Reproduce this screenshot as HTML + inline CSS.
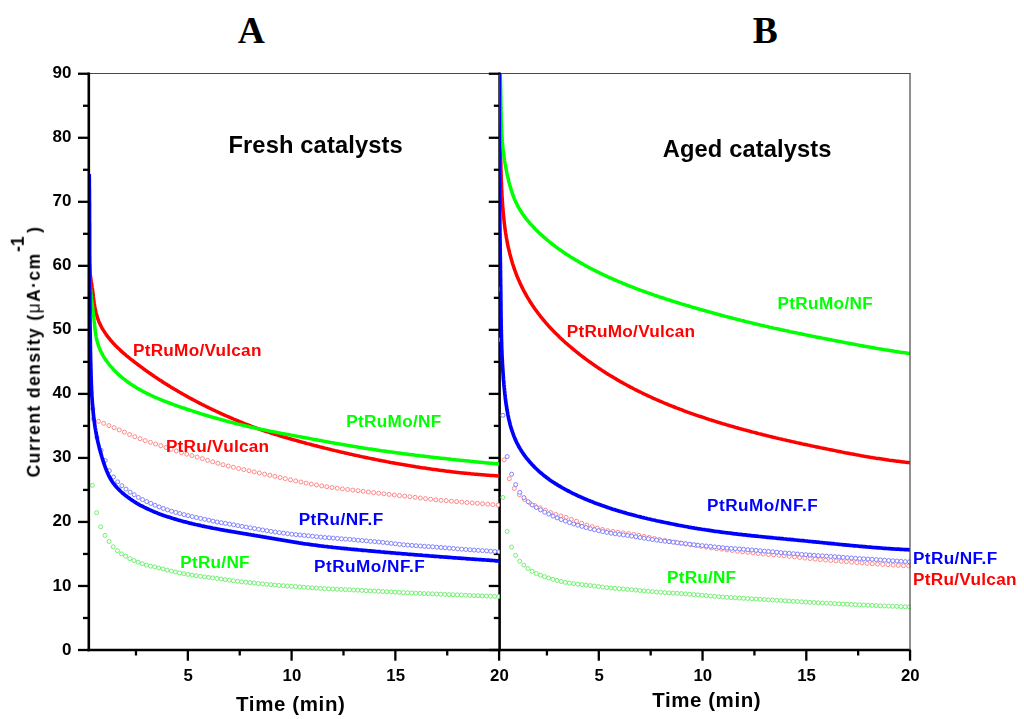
<!DOCTYPE html>
<html><head><meta charset="utf-8"><title>Chart</title>
<style>html,body{margin:0;padding:0;background:#fff;}body{width:1024px;height:719px;position:relative;overflow:hidden;font-family:"Liberation Sans",sans-serif;}</style>
</head><body>
<svg width="1024" height="719" viewBox="0 0 1024 719" style="position:absolute;left:0;top:0">
<rect width="1024" height="719" fill="#fff"/>
<defs><clipPath id="cA"><rect x="88.8" y="73.2" width="410.8" height="577"/></clipPath><clipPath id="cB"><rect x="499.4" y="73.2" width="411.6" height="577"/></clipPath></defs>
<path d="M88.8,73.55 H910.5" fill="none" stroke="#4a4a4a" stroke-width="1.05"/>
<path d="M499.6,72.6 V651.3" stroke="#000" stroke-width="2.6" fill="none"/>
<g stroke="#000" stroke-width="2.3" fill="none"><path d="M488.8,650.00 H499.6"/><path d="M493.8,617.99 H499.6"/><path d="M488.8,585.97 H499.6"/><path d="M493.8,553.96 H499.6"/><path d="M488.8,521.94 H499.6"/><path d="M493.8,489.93 H499.6"/><path d="M488.8,457.92 H499.6"/><path d="M493.8,425.90 H499.6"/><path d="M488.8,393.89 H499.6"/><path d="M493.8,361.88 H499.6"/><path d="M488.8,329.86 H499.6"/><path d="M493.8,297.85 H499.6"/><path d="M488.8,265.83 H499.6"/><path d="M493.8,233.82 H499.6"/><path d="M488.8,201.81 H499.6"/><path d="M493.8,169.79 H499.6"/><path d="M488.8,137.78 H499.6"/><path d="M493.8,105.76 H499.6"/><path d="M488.8,73.75 H499.6"/></g>
<g clip-path="url(#cA)">
<g fill="#fff" stroke="#62ee62" stroke-width="0.9"><circle cx="92.3" cy="485.3" r="2.0"/><circle cx="96.6" cy="512.7" r="2.0"/><circle cx="100.7" cy="526.8" r="2.0"/><circle cx="105.0" cy="535.4" r="2.0"/><circle cx="109.1" cy="541.5" r="2.0"/><circle cx="113.2" cy="546.8" r="2.0"/><circle cx="117.4" cy="550.7" r="2.0"/><circle cx="121.5" cy="553.9" r="2.0"/><circle cx="125.7" cy="556.2" r="2.0"/><circle cx="129.8" cy="558.7" r="2.0"/><circle cx="134.0" cy="560.5" r="2.0"/><circle cx="138.1" cy="562.2" r="2.0"/><circle cx="142.3" cy="563.7" r="2.0"/><circle cx="146.4" cy="565.1" r="2.0"/><circle cx="150.5" cy="566.1" r="2.0"/><circle cx="154.7" cy="567.0" r="2.0"/><circle cx="158.8" cy="568.0" r="2.0"/><circle cx="163.0" cy="569.0" r="2.0"/><circle cx="167.1" cy="570.1" r="2.0"/><circle cx="171.3" cy="571.1" r="2.0"/><circle cx="175.4" cy="572.0" r="2.0"/><circle cx="179.6" cy="572.9" r="2.0"/><circle cx="183.7" cy="573.7" r="2.0"/><circle cx="187.9" cy="574.4" r="2.0"/><circle cx="192.0" cy="575.1" r="2.0"/><circle cx="196.1" cy="575.7" r="2.0"/><circle cx="200.3" cy="576.3" r="2.0"/><circle cx="204.4" cy="576.9" r="2.0"/><circle cx="208.6" cy="577.4" r="2.0"/><circle cx="212.7" cy="577.9" r="2.0"/><circle cx="216.9" cy="578.4" r="2.0"/><circle cx="221.0" cy="579.0" r="2.0"/><circle cx="225.2" cy="579.6" r="2.0"/><circle cx="229.3" cy="580.1" r="2.0"/><circle cx="233.4" cy="580.7" r="2.0"/><circle cx="237.6" cy="581.3" r="2.0"/><circle cx="241.7" cy="581.8" r="2.0"/><circle cx="245.9" cy="582.2" r="2.0"/><circle cx="250.0" cy="582.6" r="2.0"/><circle cx="254.2" cy="583.0" r="2.0"/><circle cx="258.3" cy="583.5" r="2.0"/><circle cx="262.5" cy="583.9" r="2.0"/><circle cx="266.6" cy="584.3" r="2.0"/><circle cx="270.8" cy="584.7" r="2.0"/><circle cx="274.9" cy="585.0" r="2.0"/><circle cx="279.0" cy="585.4" r="2.0"/><circle cx="283.2" cy="585.7" r="2.0"/><circle cx="287.3" cy="586.0" r="2.0"/><circle cx="291.5" cy="586.3" r="2.0"/><circle cx="295.6" cy="586.6" r="2.0"/><circle cx="299.8" cy="586.9" r="2.0"/><circle cx="303.9" cy="587.2" r="2.0"/><circle cx="308.1" cy="587.5" r="2.0"/><circle cx="312.2" cy="587.8" r="2.0"/><circle cx="316.3" cy="588.1" r="2.0"/><circle cx="320.5" cy="588.4" r="2.0"/><circle cx="324.6" cy="588.6" r="2.0"/><circle cx="328.8" cy="588.8" r="2.0"/><circle cx="332.9" cy="589.0" r="2.0"/><circle cx="337.1" cy="589.2" r="2.0"/><circle cx="341.2" cy="589.4" r="2.0"/><circle cx="345.4" cy="589.6" r="2.0"/><circle cx="349.5" cy="589.8" r="2.0"/><circle cx="353.7" cy="590.0" r="2.0"/><circle cx="357.8" cy="590.2" r="2.0"/><circle cx="361.9" cy="590.4" r="2.0"/><circle cx="366.1" cy="590.7" r="2.0"/><circle cx="370.2" cy="590.9" r="2.0"/><circle cx="374.4" cy="591.1" r="2.0"/><circle cx="378.5" cy="591.3" r="2.0"/><circle cx="382.7" cy="591.5" r="2.0"/><circle cx="386.8" cy="591.7" r="2.0"/><circle cx="391.0" cy="591.9" r="2.0"/><circle cx="395.1" cy="592.1" r="2.0"/><circle cx="399.2" cy="592.4" r="2.0"/><circle cx="403.4" cy="592.6" r="2.0"/><circle cx="407.5" cy="592.8" r="2.0"/><circle cx="411.7" cy="593.0" r="2.0"/><circle cx="415.8" cy="593.2" r="2.0"/><circle cx="420.0" cy="593.4" r="2.0"/><circle cx="424.1" cy="593.6" r="2.0"/><circle cx="428.3" cy="593.7" r="2.0"/><circle cx="432.4" cy="593.9" r="2.0"/><circle cx="436.6" cy="594.0" r="2.0"/><circle cx="440.7" cy="594.2" r="2.0"/><circle cx="444.8" cy="594.4" r="2.0"/><circle cx="449.0" cy="594.6" r="2.0"/><circle cx="453.1" cy="594.7" r="2.0"/><circle cx="457.3" cy="594.9" r="2.0"/><circle cx="461.4" cy="595.0" r="2.0"/><circle cx="465.6" cy="595.2" r="2.0"/><circle cx="469.7" cy="595.4" r="2.0"/><circle cx="473.9" cy="595.6" r="2.0"/><circle cx="478.0" cy="595.7" r="2.0"/><circle cx="482.1" cy="595.9" r="2.0"/><circle cx="486.3" cy="596.0" r="2.0"/><circle cx="490.4" cy="596.2" r="2.0"/><circle cx="494.6" cy="596.4" r="2.0"/><circle cx="498.7" cy="596.5" r="2.0"/></g>
<g fill="#fff" stroke="#ff7c7c" stroke-width="0.9"><circle cx="93.3" cy="419.1" r="2.0"/><circle cx="98.5" cy="421.3" r="2.0"/><circle cx="103.7" cy="423.4" r="2.0"/><circle cx="108.9" cy="425.6" r="2.0"/><circle cx="114.1" cy="427.7" r="2.0"/><circle cx="119.2" cy="429.9" r="2.0"/><circle cx="124.4" cy="432.1" r="2.0"/><circle cx="129.6" cy="434.5" r="2.0"/><circle cx="134.8" cy="436.7" r="2.0"/><circle cx="140.0" cy="438.7" r="2.0"/><circle cx="145.2" cy="440.6" r="2.0"/><circle cx="150.4" cy="442.3" r="2.0"/><circle cx="155.6" cy="444.0" r="2.0"/><circle cx="160.8" cy="445.7" r="2.0"/><circle cx="166.0" cy="447.5" r="2.0"/><circle cx="171.1" cy="449.3" r="2.0"/><circle cx="176.3" cy="451.0" r="2.0"/><circle cx="181.5" cy="452.7" r="2.0"/><circle cx="186.7" cy="454.2" r="2.0"/><circle cx="191.9" cy="455.6" r="2.0"/><circle cx="197.1" cy="457.1" r="2.0"/><circle cx="202.3" cy="458.6" r="2.0"/><circle cx="207.5" cy="460.3" r="2.0"/><circle cx="212.7" cy="461.8" r="2.0"/><circle cx="217.9" cy="463.3" r="2.0"/><circle cx="223.0" cy="464.7" r="2.0"/><circle cx="228.2" cy="466.0" r="2.0"/><circle cx="233.4" cy="467.2" r="2.0"/><circle cx="238.6" cy="468.5" r="2.0"/><circle cx="243.8" cy="469.6" r="2.0"/><circle cx="249.0" cy="470.7" r="2.0"/><circle cx="254.2" cy="471.9" r="2.0"/><circle cx="259.4" cy="473.0" r="2.0"/><circle cx="264.6" cy="474.1" r="2.0"/><circle cx="269.8" cy="475.2" r="2.0"/><circle cx="274.9" cy="476.3" r="2.0"/><circle cx="280.1" cy="477.5" r="2.0"/><circle cx="285.3" cy="478.6" r="2.0"/><circle cx="290.5" cy="479.8" r="2.0"/><circle cx="295.7" cy="480.9" r="2.0"/><circle cx="300.9" cy="482.0" r="2.0"/><circle cx="306.1" cy="483.1" r="2.0"/><circle cx="311.3" cy="484.1" r="2.0"/><circle cx="316.5" cy="485.0" r="2.0"/><circle cx="321.7" cy="485.9" r="2.0"/><circle cx="326.8" cy="486.7" r="2.0"/><circle cx="332.0" cy="487.5" r="2.0"/><circle cx="337.2" cy="488.2" r="2.0"/><circle cx="342.4" cy="488.9" r="2.0"/><circle cx="347.6" cy="489.5" r="2.0"/><circle cx="352.8" cy="490.1" r="2.0"/><circle cx="358.0" cy="490.7" r="2.0"/><circle cx="363.2" cy="491.3" r="2.0"/><circle cx="368.4" cy="492.0" r="2.0"/><circle cx="373.6" cy="492.6" r="2.0"/><circle cx="378.7" cy="493.2" r="2.0"/><circle cx="383.9" cy="493.8" r="2.0"/><circle cx="389.1" cy="494.4" r="2.0"/><circle cx="394.3" cy="495.0" r="2.0"/><circle cx="399.5" cy="495.6" r="2.0"/><circle cx="404.7" cy="496.1" r="2.0"/><circle cx="409.9" cy="496.7" r="2.0"/><circle cx="415.1" cy="497.3" r="2.0"/><circle cx="420.3" cy="498.0" r="2.0"/><circle cx="425.5" cy="498.6" r="2.0"/><circle cx="430.6" cy="499.2" r="2.0"/><circle cx="435.8" cy="499.8" r="2.0"/><circle cx="441.0" cy="500.3" r="2.0"/><circle cx="446.2" cy="500.7" r="2.0"/><circle cx="451.4" cy="501.2" r="2.0"/><circle cx="456.6" cy="501.6" r="2.0"/><circle cx="461.8" cy="502.1" r="2.0"/><circle cx="467.0" cy="502.5" r="2.0"/><circle cx="472.2" cy="502.9" r="2.0"/><circle cx="477.4" cy="503.3" r="2.0"/><circle cx="482.5" cy="503.7" r="2.0"/><circle cx="487.7" cy="504.2" r="2.0"/><circle cx="492.9" cy="504.6" r="2.0"/><circle cx="498.1" cy="505.0" r="2.0"/></g>
<g fill="#fff" stroke="#7474ff" stroke-width="0.9"><circle cx="92.8" cy="408.6" r="2.0"/><circle cx="96.9" cy="437.5" r="2.0"/><circle cx="101.1" cy="450.3" r="2.0"/><circle cx="105.2" cy="460.5" r="2.0"/><circle cx="109.4" cy="470.7" r="2.0"/><circle cx="113.5" cy="477.0" r="2.0"/><circle cx="117.7" cy="481.8" r="2.0"/><circle cx="121.8" cy="485.7" r="2.0"/><circle cx="126.0" cy="489.1" r="2.0"/><circle cx="130.1" cy="492.2" r="2.0"/><circle cx="134.2" cy="494.7" r="2.0"/><circle cx="138.4" cy="497.4" r="2.0"/><circle cx="142.5" cy="499.6" r="2.0"/><circle cx="146.7" cy="501.6" r="2.0"/><circle cx="150.8" cy="503.4" r="2.0"/><circle cx="155.0" cy="505.2" r="2.0"/><circle cx="159.1" cy="506.9" r="2.0"/><circle cx="163.3" cy="508.5" r="2.0"/><circle cx="167.4" cy="509.9" r="2.0"/><circle cx="171.6" cy="511.2" r="2.0"/><circle cx="175.7" cy="512.4" r="2.0"/><circle cx="179.8" cy="513.5" r="2.0"/><circle cx="184.0" cy="514.6" r="2.0"/><circle cx="188.1" cy="515.6" r="2.0"/><circle cx="192.3" cy="516.6" r="2.0"/><circle cx="196.4" cy="517.5" r="2.0"/><circle cx="200.6" cy="518.4" r="2.0"/><circle cx="204.7" cy="519.3" r="2.0"/><circle cx="208.9" cy="520.2" r="2.0"/><circle cx="213.0" cy="521.1" r="2.0"/><circle cx="217.1" cy="522.0" r="2.0"/><circle cx="221.3" cy="522.7" r="2.0"/><circle cx="225.4" cy="523.4" r="2.0"/><circle cx="229.6" cy="524.1" r="2.0"/><circle cx="233.7" cy="524.8" r="2.0"/><circle cx="237.9" cy="525.6" r="2.0"/><circle cx="242.0" cy="526.4" r="2.0"/><circle cx="246.2" cy="527.1" r="2.0"/><circle cx="250.3" cy="527.8" r="2.0"/><circle cx="254.5" cy="528.5" r="2.0"/><circle cx="258.6" cy="529.3" r="2.0"/><circle cx="262.7" cy="530.0" r="2.0"/><circle cx="266.9" cy="530.7" r="2.0"/><circle cx="271.0" cy="531.4" r="2.0"/><circle cx="275.2" cy="532.0" r="2.0"/><circle cx="279.3" cy="532.6" r="2.0"/><circle cx="283.5" cy="533.1" r="2.0"/><circle cx="287.6" cy="533.7" r="2.0"/><circle cx="291.8" cy="534.2" r="2.0"/><circle cx="295.9" cy="534.6" r="2.0"/><circle cx="300.0" cy="535.0" r="2.0"/><circle cx="304.2" cy="535.4" r="2.0"/><circle cx="308.3" cy="535.8" r="2.0"/><circle cx="312.5" cy="536.2" r="2.0"/><circle cx="316.6" cy="536.7" r="2.0"/><circle cx="320.8" cy="537.1" r="2.0"/><circle cx="324.9" cy="537.5" r="2.0"/><circle cx="329.1" cy="537.8" r="2.0"/><circle cx="333.2" cy="538.1" r="2.0"/><circle cx="337.4" cy="538.4" r="2.0"/><circle cx="341.5" cy="538.8" r="2.0"/><circle cx="345.6" cy="539.1" r="2.0"/><circle cx="349.8" cy="539.4" r="2.0"/><circle cx="353.9" cy="539.8" r="2.0"/><circle cx="358.1" cy="540.2" r="2.0"/><circle cx="362.2" cy="540.5" r="2.0"/><circle cx="366.4" cy="540.9" r="2.0"/><circle cx="370.5" cy="541.3" r="2.0"/><circle cx="374.7" cy="541.6" r="2.0"/><circle cx="378.8" cy="542.0" r="2.0"/><circle cx="382.9" cy="542.4" r="2.0"/><circle cx="387.1" cy="542.9" r="2.0"/><circle cx="391.2" cy="543.4" r="2.0"/><circle cx="395.4" cy="543.8" r="2.0"/><circle cx="399.5" cy="544.3" r="2.0"/><circle cx="403.7" cy="544.7" r="2.0"/><circle cx="407.8" cy="545.1" r="2.0"/><circle cx="412.0" cy="545.4" r="2.0"/><circle cx="416.1" cy="545.7" r="2.0"/><circle cx="420.3" cy="546.0" r="2.0"/><circle cx="424.4" cy="546.3" r="2.0"/><circle cx="428.5" cy="546.6" r="2.0"/><circle cx="432.7" cy="546.8" r="2.0"/><circle cx="436.8" cy="547.2" r="2.0"/><circle cx="441.0" cy="547.5" r="2.0"/><circle cx="445.1" cy="547.8" r="2.0"/><circle cx="449.3" cy="548.2" r="2.0"/><circle cx="453.4" cy="548.5" r="2.0"/><circle cx="457.6" cy="548.9" r="2.0"/><circle cx="461.7" cy="549.2" r="2.0"/><circle cx="465.8" cy="549.5" r="2.0"/><circle cx="470.0" cy="549.8" r="2.0"/><circle cx="474.1" cy="550.1" r="2.0"/><circle cx="478.3" cy="550.4" r="2.0"/><circle cx="482.4" cy="550.6" r="2.0"/><circle cx="486.6" cy="550.9" r="2.0"/><circle cx="490.7" cy="551.2" r="2.0"/><circle cx="494.9" cy="551.5" r="2.0"/><circle cx="499.0" cy="551.8" r="2.0"/></g>
<path d="M89.4,256.0 L89.4,257.5 L89.4,259.0 L89.4,260.5 L89.4,262.0 L89.4,263.5 L89.5,265.0 L89.6,266.4 L89.7,267.9 L89.8,269.4 L89.9,270.9 L90.1,272.4 L90.2,273.9 L90.4,275.4 L90.6,276.9 L90.8,278.4 L91.0,279.9 L91.2,281.3 L91.5,282.8 L91.7,284.3 L91.9,285.8 L92.1,287.3 L92.4,288.8 L92.6,290.3 L92.8,291.8 L93.0,293.3 L93.2,294.8 L93.3,296.4 L93.5,297.9 L93.7,299.4 L93.9,300.9 L94.1,302.4 L94.3,303.8 L94.6,305.3 L94.8,306.8 L95.1,308.3 L95.4,309.8 L95.7,311.2 L96.0,312.7 L96.4,314.1 L96.8,315.5 L97.2,316.9 L97.7,318.4 L98.2,319.7 L98.7,321.1 L99.3,322.5 L99.9,323.8 L100.5,325.2 L101.2,326.5 L101.9,327.8 L102.7,329.1 L103.5,330.4 L104.3,331.6 L105.1,332.9 L105.9,334.1 L106.8,335.4 L107.7,336.6 L108.6,337.8 L109.6,338.9 L110.5,340.1 L111.5,341.2 L112.5,342.4 L113.5,343.5 L114.6,344.6 L115.6,345.7 L116.7,346.7 L117.7,347.8 L118.8,348.8 L119.9,349.8 L121.0,350.9 L122.1,351.9 L123.2,352.8 L124.4,353.8 L125.5,354.8 L126.6,355.8 L127.8,356.7 L129.0,357.7 L130.1,358.6 L131.3,359.5 L132.5,360.5 L133.7,361.4 L134.9,362.3 L136.0,363.2 L137.2,364.1 L138.4,365.0 L139.7,365.9 L140.9,366.8 L142.1,367.7 L143.3,368.6 L144.5,369.5 L145.7,370.4 L146.9,371.2 L148.2,372.1 L149.4,373.0 L150.6,373.8 L151.9,374.7 L153.1,375.5 L154.3,376.4 L155.6,377.2 L156.8,378.1 L158.1,378.9 L159.3,379.7 L160.6,380.5 L161.8,381.3 L163.1,382.2 L164.4,383.0 L165.6,383.8 L166.9,384.6 L168.2,385.4 L169.5,386.1 L170.7,386.9 L172.0,387.7 L173.3,388.5 L174.6,389.3 L175.9,390.0 L177.2,390.8 L178.4,391.5 L179.7,392.3 L181.0,393.0 L182.3,393.8 L183.6,394.5 L185.0,395.3 L186.3,396.0 L187.6,396.7 L188.9,397.5 L190.2,398.2 L191.5,398.9 L192.8,399.6 L194.2,400.3 L195.5,401.0 L196.8,401.7 L198.1,402.4 L199.5,403.1 L200.8,403.8 L202.1,404.5 L203.5,405.1 L204.8,405.8 L206.2,406.5 L207.5,407.1 L208.9,407.8 L210.2,408.5 L211.6,409.1 L212.9,409.8 L214.3,410.4 L215.6,411.0 L217.0,411.7 L218.3,412.3 L219.7,412.9 L221.1,413.6 L222.4,414.2 L223.8,414.8 L225.2,415.4 L226.5,416.0 L227.9,416.6 L229.3,417.2 L230.7,417.8 L232.1,418.4 L233.4,419.0 L234.8,419.6 L236.2,420.2 L237.6,420.7 L239.0,421.3 L240.4,421.9 L241.8,422.4 L243.2,423.0 L244.5,423.6 L245.9,424.1 L247.3,424.6 L248.7,425.2 L250.1,425.7 L251.5,426.3 L253.0,426.8 L254.4,427.3 L255.8,427.8 L257.2,428.3 L258.6,428.8 L260.0,429.3 L261.4,429.8 L262.8,430.3 L264.2,430.8 L265.7,431.3 L267.1,431.7 L268.5,432.2 L269.9,432.7 L271.3,433.1 L272.8,433.6 L274.2,434.0 L275.6,434.5 L277.0,434.9 L278.5,435.4 L279.9,435.8 L281.3,436.3 L282.8,436.7 L284.2,437.1 L285.6,437.5 L287.1,437.9 L288.5,438.4 L289.9,438.8 L291.4,439.2 L292.8,439.6 L294.3,440.0 L295.7,440.4 L297.2,440.8 L298.6,441.2 L300.0,441.6 L301.5,442.0 L302.9,442.4 L304.4,442.8 L305.8,443.2 L307.3,443.6 L308.7,443.9 L310.2,444.3 L311.6,444.7 L313.1,445.1 L314.5,445.5 L316.0,445.8 L317.4,446.2 L318.9,446.6 L320.4,447.0 L321.8,447.3 L323.3,447.7 L324.7,448.1 L326.2,448.4 L327.7,448.8 L329.1,449.1 L330.6,449.5 L332.0,449.9 L333.5,450.2 L335.0,450.6 L336.4,450.9 L337.9,451.3 L339.4,451.6 L340.8,452.0 L342.3,452.3 L343.7,452.6 L345.2,453.0 L346.7,453.3 L348.1,453.6 L349.6,454.0 L351.1,454.3 L352.5,454.6 L354.0,455.0 L355.5,455.3 L357.0,455.6 L358.4,455.9 L359.9,456.3 L361.4,456.6 L362.8,456.9 L364.3,457.2 L365.8,457.5 L367.2,457.8 L368.7,458.1 L370.2,458.4 L371.7,458.7 L373.1,459.0 L374.6,459.3 L376.1,459.6 L377.5,459.9 L379.0,460.2 L380.5,460.5 L382.0,460.8 L383.4,461.1 L384.9,461.3 L386.4,461.6 L387.8,461.9 L389.3,462.2 L390.8,462.5 L392.3,462.7 L393.7,463.0 L395.2,463.3 L396.7,463.5 L398.2,463.8 L399.6,464.1 L401.1,464.3 L402.6,464.6 L404.1,464.8 L405.5,465.1 L407.0,465.3 L408.5,465.6 L410.0,465.8 L411.4,466.1 L412.9,466.3 L414.4,466.5 L415.9,466.8 L417.4,467.0 L418.8,467.2 L420.3,467.5 L421.8,467.7 L423.3,467.9 L424.8,468.1 L426.2,468.3 L427.7,468.6 L429.2,468.8 L430.7,469.0 L432.2,469.2 L433.6,469.4 L435.1,469.6 L436.6,469.8 L438.1,470.0 L439.6,470.2 L441.1,470.4 L442.6,470.6 L444.0,470.8 L445.5,471.0 L447.0,471.2 L448.5,471.3 L450.0,471.5 L451.5,471.7 L453.0,471.9 L454.4,472.0 L455.9,472.2 L457.4,472.4 L458.9,472.6 L460.4,472.7 L461.9,472.9 L463.4,473.0 L464.9,473.2 L466.4,473.3 L467.9,473.5 L469.4,473.6 L470.8,473.8 L472.3,473.9 L473.8,474.1 L475.3,474.2 L476.8,474.3 L478.3,474.5 L479.8,474.6 L481.3,474.7 L482.8,474.8 L484.3,475.0 L485.8,475.1 L487.3,475.2 L488.8,475.3 L490.3,475.4 L491.8,475.5 L493.3,475.6 L494.8,475.7 L496.3,475.8 L497.8,475.9 L499.0,476.0" fill="none" stroke="#ff0000" stroke-width="3.5" stroke-linejoin="round"/>
<path d="M89.3,262.0 L89.3,263.5 L89.3,265.0 L89.4,266.5 L89.4,268.0 L89.4,269.5 L89.5,271.0 L89.5,272.5 L89.6,274.0 L89.6,275.5 L89.7,277.0 L89.8,278.5 L89.9,280.0 L90.0,281.5 L90.1,283.0 L90.2,284.4 L90.3,285.9 L90.4,287.4 L90.5,288.9 L90.7,290.4 L90.8,291.9 L90.9,293.4 L91.1,294.9 L91.3,296.4 L91.4,297.9 L91.6,299.4 L91.8,300.9 L92.0,302.4 L92.2,303.9 L92.4,305.4 L92.6,306.9 L92.8,308.4 L92.9,309.9 L93.1,311.4 L93.3,312.9 L93.5,314.4 L93.7,315.9 L93.8,317.4 L94.0,318.9 L94.1,320.4 L94.3,321.9 L94.4,323.3 L94.6,324.8 L94.7,326.3 L94.9,327.8 L95.0,329.3 L95.2,330.8 L95.4,332.2 L95.6,333.7 L95.9,335.2 L96.1,336.6 L96.4,338.1 L96.7,339.5 L97.1,341.0 L97.5,342.4 L97.9,343.8 L98.3,345.2 L98.8,346.6 L99.4,348.0 L99.9,349.4 L100.5,350.8 L101.2,352.1 L101.9,353.4 L102.6,354.8 L103.3,356.1 L104.1,357.4 L104.9,358.6 L105.7,359.9 L106.6,361.1 L107.5,362.3 L108.4,363.5 L109.3,364.7 L110.3,365.9 L111.3,367.0 L112.3,368.2 L113.3,369.3 L114.4,370.4 L115.4,371.5 L116.5,372.5 L117.6,373.6 L118.7,374.6 L119.8,375.6 L121.0,376.6 L122.1,377.6 L123.3,378.5 L124.5,379.5 L125.7,380.4 L126.9,381.3 L128.1,382.2 L129.3,383.0 L130.5,383.9 L131.8,384.7 L133.0,385.5 L134.3,386.3 L135.5,387.1 L136.8,387.9 L138.1,388.7 L139.4,389.4 L140.7,390.1 L142.0,390.9 L143.3,391.6 L144.6,392.3 L145.9,392.9 L147.3,393.6 L148.6,394.3 L150.0,394.9 L151.3,395.5 L152.7,396.2 L154.0,396.8 L155.4,397.4 L156.8,398.0 L158.2,398.6 L159.5,399.2 L160.9,399.7 L162.3,400.3 L163.7,400.8 L165.1,401.4 L166.5,401.9 L167.9,402.5 L169.3,403.0 L170.7,403.5 L172.1,404.0 L173.6,404.6 L175.0,405.1 L176.4,405.6 L177.8,406.1 L179.2,406.6 L180.7,407.1 L182.1,407.6 L183.5,408.0 L184.9,408.5 L186.3,409.0 L187.8,409.5 L189.2,410.0 L190.6,410.4 L192.1,410.9 L193.5,411.4 L194.9,411.8 L196.3,412.3 L197.8,412.7 L199.2,413.2 L200.6,413.6 L202.1,414.1 L203.5,414.5 L205.0,415.0 L206.4,415.4 L207.8,415.8 L209.3,416.3 L210.7,416.7 L212.1,417.1 L213.6,417.5 L215.0,417.9 L216.5,418.3 L217.9,418.7 L219.3,419.1 L220.8,419.5 L222.2,419.9 L223.7,420.3 L225.1,420.7 L226.6,421.1 L228.0,421.5 L229.5,421.9 L230.9,422.2 L232.4,422.6 L233.8,423.0 L235.3,423.4 L236.7,423.7 L238.2,424.1 L239.6,424.4 L241.1,424.8 L242.5,425.1 L244.0,425.5 L245.5,425.8 L246.9,426.2 L248.4,426.5 L249.8,426.8 L251.3,427.2 L252.7,427.5 L254.2,427.8 L255.7,428.1 L257.1,428.5 L258.6,428.8 L260.1,429.1 L261.5,429.4 L263.0,429.7 L264.4,430.0 L265.9,430.3 L267.4,430.6 L268.8,430.9 L270.3,431.2 L271.8,431.5 L273.2,431.8 L274.7,432.0 L276.2,432.3 L277.6,432.6 L279.1,432.9 L280.6,433.2 L282.1,433.5 L283.5,433.7 L285.0,434.0 L286.5,434.3 L287.9,434.5 L289.4,434.8 L290.9,435.1 L292.4,435.4 L293.8,435.6 L295.3,435.9 L296.8,436.2 L298.3,436.4 L299.7,436.7 L301.2,437.0 L302.7,437.3 L304.2,437.5 L305.6,437.8 L307.1,438.1 L308.6,438.3 L310.1,438.6 L311.5,438.9 L313.0,439.2 L314.5,439.4 L316.0,439.7 L317.5,440.0 L318.9,440.3 L320.4,440.5 L321.9,440.8 L323.4,441.1 L324.9,441.4 L326.3,441.6 L327.8,441.9 L329.3,442.2 L330.8,442.5 L332.3,442.7 L333.7,443.0 L335.2,443.3 L336.7,443.5 L338.2,443.8 L339.7,444.0 L341.1,444.3 L342.6,444.6 L344.1,444.8 L345.6,445.1 L347.1,445.3 L348.6,445.6 L350.0,445.8 L351.5,446.1 L353.0,446.3 L354.5,446.6 L356.0,446.8 L357.5,447.0 L358.9,447.3 L360.4,447.5 L361.9,447.7 L363.4,448.0 L364.9,448.2 L366.4,448.4 L367.8,448.7 L369.3,448.9 L370.8,449.1 L372.3,449.3 L373.8,449.6 L375.3,449.8 L376.7,450.0 L378.2,450.2 L379.7,450.4 L381.2,450.7 L382.7,450.9 L384.2,451.1 L385.6,451.3 L387.1,451.5 L388.6,451.7 L390.1,451.9 L391.6,452.1 L393.1,452.3 L394.5,452.5 L396.0,452.7 L397.5,452.9 L399.0,453.1 L400.5,453.3 L402.0,453.5 L403.5,453.7 L404.9,453.9 L406.4,454.1 L407.9,454.3 L409.4,454.5 L410.9,454.7 L412.4,454.8 L413.9,455.0 L415.3,455.2 L416.8,455.4 L418.3,455.6 L419.8,455.8 L421.3,455.9 L422.8,456.1 L424.3,456.3 L425.7,456.5 L427.2,456.6 L428.7,456.8 L430.2,457.0 L431.7,457.2 L433.2,457.3 L434.7,457.5 L436.2,457.7 L437.6,457.8 L439.1,458.0 L440.6,458.2 L442.1,458.3 L443.6,458.5 L445.1,458.6 L446.6,458.8 L448.1,459.0 L449.6,459.1 L451.0,459.3 L452.5,459.4 L454.0,459.6 L455.5,459.8 L457.0,459.9 L458.5,460.1 L460.0,460.2 L461.5,460.4 L463.0,460.5 L464.5,460.7 L466.0,460.8 L467.5,461.0 L468.9,461.1 L470.4,461.3 L471.9,461.4 L473.4,461.6 L474.9,461.7 L476.4,461.9 L477.9,462.0 L479.4,462.2 L480.9,462.3 L482.4,462.4 L483.9,462.6 L485.4,462.7 L486.9,462.9 L488.4,463.0 L489.9,463.2 L491.4,463.3 L492.9,463.4 L494.4,463.6 L495.9,463.7 L497.4,463.8 L498.9,464.0 L499.0,464.0" fill="none" stroke="#00ff00" stroke-width="3.5" stroke-linejoin="round"/>
<path d="M89.2,174.0 L89.2,175.5 L89.2,177.0 L89.3,178.5 L89.3,180.0 L89.3,181.5 L89.3,183.0 L89.3,184.5 L89.3,186.0 L89.3,187.5 L89.4,189.0 L89.4,190.5 L89.4,192.0 L89.4,193.5 L89.4,195.0 L89.4,196.5 L89.4,198.0 L89.4,199.5 L89.4,201.0 L89.5,202.5 L89.5,204.0 L89.5,205.5 L89.5,207.0 L89.5,208.5 L89.5,210.0 L89.5,211.5 L89.5,213.0 L89.5,214.5 L89.5,216.0 L89.5,217.5 L89.5,219.0 L89.5,220.5 L89.5,222.0 L89.6,223.5 L89.6,225.0 L89.6,226.5 L89.6,228.0 L89.6,229.5 L89.6,231.0 L89.6,232.5 L89.6,234.0 L89.6,235.5 L89.6,237.0 L89.6,238.5 L89.6,240.0 L89.6,241.5 L89.6,243.0 L89.6,244.5 L89.6,246.0 L89.6,247.5 L89.6,249.0 L89.6,250.5 L89.6,252.0 L89.6,253.5 L89.6,255.0 L89.6,256.5 L89.6,258.0 L89.6,259.5 L89.6,261.0 L89.6,262.5 L89.7,264.0 L89.7,265.5 L89.7,267.0 L89.7,268.5 L89.7,270.0 L89.7,271.5 L89.7,273.0 L89.7,274.5 L89.7,276.0 L89.7,277.5 L89.7,279.0 L89.7,280.5 L89.7,282.0 L89.7,283.5 L89.7,285.0 L89.7,286.5 L89.7,288.0 L89.7,289.5 L89.7,291.0 L89.8,292.5 L89.8,294.0 L89.8,295.5 L89.8,297.0 L89.8,298.5 L89.8,300.0 L89.8,301.5 L89.8,303.0 L89.8,304.5 L89.8,306.0 L89.9,307.5 L89.9,309.0 L89.9,310.5 L89.9,312.0 L89.9,313.5 L89.9,315.0 L89.9,316.5 L89.9,318.0 L90.0,319.5 L90.0,321.0 L90.0,322.5 L90.0,324.0 L90.0,325.5 L90.1,327.0 L90.1,328.5 L90.1,330.0 L90.1,331.5 L90.1,333.0 L90.2,334.5 L90.2,335.9 L90.2,337.4 L90.2,338.9 L90.3,340.4 L90.3,341.9 L90.3,343.4 L90.3,344.9 L90.4,346.4 L90.4,347.9 L90.4,349.4 L90.4,350.9 L90.5,352.4 L90.5,353.9 L90.5,355.4 L90.6,356.9 L90.6,358.4 L90.6,359.9 L90.7,361.4 L90.7,362.9 L90.8,364.4 L90.8,365.9 L90.8,367.5 L90.9,369.0 L90.9,370.5 L91.0,372.0 L91.0,373.5 L91.0,375.0 L91.1,376.5 L91.1,378.0 L91.2,379.5 L91.2,381.0 L91.3,382.5 L91.3,384.0 L91.4,385.5 L91.5,387.0 L91.5,388.5 L91.6,390.0 L91.7,391.5 L91.8,393.0 L91.8,394.5 L91.9,396.0 L92.0,397.5 L92.1,399.0 L92.2,400.5 L92.3,402.0 L92.4,403.5 L92.5,405.0 L92.7,406.5 L92.8,408.0 L92.9,409.5 L93.1,411.0 L93.2,412.5 L93.4,414.0 L93.5,415.5 L93.7,417.0 L93.9,418.5 L94.1,419.9 L94.3,421.4 L94.5,422.9 L94.7,424.4 L94.9,425.9 L95.1,427.3 L95.4,428.8 L95.6,430.3 L95.9,431.8 L96.1,433.2 L96.4,434.7 L96.7,436.2 L97.0,437.7 L97.3,439.1 L97.6,440.6 L97.9,442.0 L98.3,443.5 L98.6,445.0 L99.0,446.4 L99.3,447.9 L99.7,449.3 L100.1,450.7 L100.5,452.2 L100.9,453.6 L101.3,455.1 L101.7,456.5 L102.2,457.9 L102.6,459.4 L103.1,460.8 L103.5,462.2 L104.0,463.6 L104.5,465.1 L105.0,466.5 L105.5,467.9 L106.1,469.3 L106.6,470.7 L107.2,472.0 L107.8,473.4 L108.4,474.8 L109.0,476.1 L109.7,477.4 L110.4,478.7 L111.2,480.0 L112.0,481.2 L112.8,482.5 L113.7,483.7 L114.6,484.9 L115.6,486.0 L116.6,487.2 L117.6,488.3 L118.7,489.4 L119.7,490.4 L120.8,491.5 L121.9,492.5 L123.1,493.5 L124.2,494.4 L125.4,495.4 L126.6,496.3 L127.8,497.2 L129.0,498.1 L130.2,499.0 L131.5,499.8 L132.7,500.7 L134.0,501.5 L135.3,502.3 L136.5,503.1 L137.8,503.8 L139.1,504.6 L140.4,505.3 L141.8,506.0 L143.1,506.7 L144.4,507.4 L145.8,508.0 L147.1,508.7 L148.5,509.3 L149.8,509.9 L151.2,510.5 L152.6,511.1 L153.9,511.7 L155.3,512.3 L156.7,512.8 L158.1,513.4 L159.5,513.9 L160.9,514.4 L162.3,514.9 L163.7,515.4 L165.1,515.9 L166.6,516.4 L168.0,516.9 L169.4,517.3 L170.8,517.8 L172.3,518.3 L173.7,518.7 L175.1,519.1 L176.6,519.5 L178.0,520.0 L179.5,520.4 L180.9,520.8 L182.3,521.2 L183.8,521.6 L185.2,521.9 L186.7,522.3 L188.2,522.7 L189.6,523.1 L191.1,523.4 L192.5,523.8 L194.0,524.1 L195.5,524.5 L196.9,524.8 L198.4,525.1 L199.9,525.4 L201.3,525.8 L202.8,526.1 L204.3,526.4 L205.7,526.7 L207.2,527.0 L208.7,527.3 L210.2,527.6 L211.6,527.9 L213.1,528.2 L214.6,528.5 L216.1,528.7 L217.5,529.0 L219.0,529.3 L220.5,529.6 L222.0,529.8 L223.4,530.1 L224.9,530.4 L226.4,530.6 L227.9,530.9 L229.3,531.1 L230.8,531.4 L232.3,531.7 L233.8,531.9 L235.2,532.2 L236.7,532.4 L238.2,532.7 L239.7,532.9 L241.1,533.2 L242.6,533.4 L244.1,533.7 L245.6,533.9 L247.1,534.1 L248.5,534.4 L250.0,534.6 L251.5,534.9 L253.0,535.1 L254.4,535.4 L255.9,535.6 L257.4,535.9 L258.9,536.1 L260.4,536.4 L261.8,536.6 L263.3,536.9 L264.8,537.1 L266.3,537.4 L267.8,537.6 L269.2,537.9 L270.7,538.1 L272.2,538.4 L273.7,538.6 L275.2,538.9 L276.6,539.1 L278.1,539.4 L279.6,539.6 L281.1,539.9 L282.6,540.2 L284.0,540.4 L285.5,540.7 L287.0,540.9 L288.5,541.2 L290.0,541.4 L291.4,541.7 L292.9,541.9 L294.4,542.2 L295.9,542.4 L297.4,542.6 L298.9,542.9 L300.3,543.1 L301.8,543.3 L303.3,543.6 L304.8,543.8 L306.3,544.0 L307.8,544.2 L309.3,544.4 L310.7,544.6 L312.2,544.8 L313.7,545.0 L315.2,545.2 L316.7,545.4 L318.2,545.6 L319.7,545.8 L321.1,546.0 L322.6,546.2 L324.1,546.4 L325.6,546.5 L327.1,546.7 L328.6,546.9 L330.1,547.0 L331.6,547.2 L333.1,547.4 L334.5,547.5 L336.0,547.7 L337.5,547.8 L339.0,548.0 L340.5,548.1 L342.0,548.3 L343.5,548.4 L345.0,548.6 L346.5,548.7 L348.0,548.9 L349.4,549.0 L350.9,549.2 L352.4,549.3 L353.9,549.4 L355.4,549.6 L356.9,549.7 L358.4,549.9 L359.9,550.0 L361.4,550.1 L362.9,550.3 L364.4,550.4 L365.9,550.5 L367.3,550.7 L368.8,550.8 L370.3,550.9 L371.8,551.1 L373.3,551.2 L374.8,551.3 L376.3,551.5 L377.8,551.6 L379.3,551.7 L380.8,551.9 L382.3,552.0 L383.8,552.1 L385.3,552.3 L386.8,552.4 L388.3,552.5 L389.8,552.6 L391.3,552.8 L392.8,552.9 L394.2,553.0 L395.7,553.2 L397.2,553.3 L398.7,553.4 L400.2,553.5 L401.7,553.7 L403.2,553.8 L404.7,553.9 L406.2,554.0 L407.7,554.2 L409.2,554.3 L410.7,554.4 L412.2,554.5 L413.7,554.6 L415.2,554.8 L416.7,554.9 L418.2,555.0 L419.7,555.1 L421.2,555.2 L422.7,555.4 L424.2,555.5 L425.7,555.6 L427.2,555.7 L428.7,555.8 L430.2,556.0 L431.6,556.1 L433.1,556.2 L434.6,556.3 L436.1,556.4 L437.6,556.5 L439.1,556.6 L440.6,556.8 L442.1,556.9 L443.6,557.0 L445.1,557.1 L446.6,557.2 L448.1,557.3 L449.6,557.4 L451.1,557.5 L452.6,557.7 L454.1,557.8 L455.6,557.9 L457.1,558.0 L458.6,558.1 L460.1,558.2 L461.6,558.3 L463.1,558.4 L464.6,558.5 L466.1,558.6 L467.6,558.8 L469.1,558.9 L470.6,559.0 L472.0,559.1 L473.5,559.2 L475.0,559.3 L476.5,559.4 L478.0,559.5 L479.5,559.6 L481.0,559.7 L482.5,559.8 L484.0,559.9 L485.5,560.0 L487.0,560.1 L488.5,560.2 L490.0,560.3 L491.5,560.4 L493.0,560.5 L494.5,560.6 L496.0,560.8 L497.5,560.9 L499.0,561.0 L499.6,561.0" fill="none" stroke="#0000ff" stroke-width="3.7" stroke-linejoin="round"/>
</g>
<g stroke="#000" stroke-width="2.6" fill="none">
<path d="M88.8,72.6 V651.3"/>
<path d="M87.5,650.0 H910.7"/>
</g>
<g stroke="#000" stroke-width="2.3" fill="none"><path d="M78.0,650.00 H88.8"/><path d="M83.0,617.99 H88.8"/><path d="M78.0,585.97 H88.8"/><path d="M83.0,553.96 H88.8"/><path d="M78.0,521.94 H88.8"/><path d="M83.0,489.93 H88.8"/><path d="M78.0,457.92 H88.8"/><path d="M83.0,425.90 H88.8"/><path d="M78.0,393.89 H88.8"/><path d="M83.0,361.88 H88.8"/><path d="M78.0,329.86 H88.8"/><path d="M83.0,297.85 H88.8"/><path d="M78.0,265.83 H88.8"/><path d="M83.0,233.82 H88.8"/><path d="M78.0,201.81 H88.8"/><path d="M83.0,169.79 H88.8"/><path d="M78.0,137.78 H88.8"/><path d="M83.0,105.76 H88.8"/><path d="M78.0,73.75 H88.8"/>
<path d="M135.97,650.0 V655.5"/>
<path d="M187.85,650.0 V660.7"/>
<path d="M239.72,650.0 V655.5"/>
<path d="M291.60,650.0 V660.7"/>
<path d="M343.48,650.0 V655.5"/>
<path d="M395.35,650.0 V660.7"/>
<path d="M447.23,650.0 V655.5"/>
<path d="M499.10,650.0 V660.7"/>
<path d="M546.92,650.0 V655.5"/>
<path d="M598.80,650.0 V660.7"/>
<path d="M650.67,650.0 V655.5"/>
<path d="M702.55,650.0 V660.7"/>
<path d="M754.42,650.0 V655.5"/>
<path d="M806.30,650.0 V660.7"/>
<path d="M858.17,650.0 V655.5"/>
<path d="M910.05,650.0 V660.7"/>
</g>
<g clip-path="url(#cB)">
<g fill="#fff" stroke="#62ee62" stroke-width="0.9"><circle cx="502.9" cy="497.4" r="2.0"/><circle cx="507.2" cy="531.5" r="2.0"/><circle cx="511.5" cy="547.1" r="2.0"/><circle cx="515.6" cy="555.4" r="2.0"/><circle cx="519.7" cy="561.2" r="2.0"/><circle cx="523.8" cy="565.1" r="2.0"/><circle cx="528.0" cy="568.5" r="2.0"/><circle cx="532.1" cy="571.3" r="2.0"/><circle cx="536.3" cy="573.5" r="2.0"/><circle cx="540.4" cy="575.2" r="2.0"/><circle cx="544.6" cy="576.7" r="2.0"/><circle cx="548.7" cy="578.0" r="2.0"/><circle cx="552.9" cy="579.3" r="2.0"/><circle cx="557.0" cy="580.4" r="2.0"/><circle cx="561.1" cy="581.5" r="2.0"/><circle cx="565.3" cy="582.4" r="2.0"/><circle cx="569.4" cy="583.1" r="2.0"/><circle cx="573.6" cy="583.7" r="2.0"/><circle cx="577.7" cy="584.1" r="2.0"/><circle cx="581.9" cy="584.6" r="2.0"/><circle cx="586.0" cy="585.0" r="2.0"/><circle cx="590.2" cy="585.5" r="2.0"/><circle cx="594.3" cy="586.0" r="2.0"/><circle cx="598.5" cy="586.6" r="2.0"/><circle cx="602.6" cy="587.1" r="2.0"/><circle cx="606.7" cy="587.6" r="2.0"/><circle cx="610.9" cy="588.0" r="2.0"/><circle cx="615.0" cy="588.3" r="2.0"/><circle cx="619.2" cy="588.7" r="2.0"/><circle cx="623.3" cy="589.0" r="2.0"/><circle cx="627.5" cy="589.4" r="2.0"/><circle cx="631.6" cy="589.7" r="2.0"/><circle cx="635.8" cy="590.1" r="2.0"/><circle cx="639.9" cy="590.5" r="2.0"/><circle cx="644.0" cy="590.9" r="2.0"/><circle cx="648.2" cy="591.3" r="2.0"/><circle cx="652.3" cy="591.6" r="2.0"/><circle cx="656.5" cy="592.0" r="2.0"/><circle cx="660.6" cy="592.3" r="2.0"/><circle cx="664.8" cy="592.6" r="2.0"/><circle cx="668.9" cy="592.9" r="2.0"/><circle cx="673.1" cy="593.1" r="2.0"/><circle cx="677.2" cy="593.3" r="2.0"/><circle cx="681.4" cy="593.6" r="2.0"/><circle cx="685.5" cy="593.9" r="2.0"/><circle cx="689.6" cy="594.2" r="2.0"/><circle cx="693.8" cy="594.6" r="2.0"/><circle cx="697.9" cy="594.9" r="2.0"/><circle cx="702.1" cy="595.3" r="2.0"/><circle cx="706.2" cy="595.6" r="2.0"/><circle cx="710.4" cy="596.0" r="2.0"/><circle cx="714.5" cy="596.3" r="2.0"/><circle cx="718.7" cy="596.7" r="2.0"/><circle cx="722.8" cy="597.0" r="2.0"/><circle cx="726.9" cy="597.3" r="2.0"/><circle cx="731.1" cy="597.6" r="2.0"/><circle cx="735.2" cy="597.8" r="2.0"/><circle cx="739.4" cy="598.1" r="2.0"/><circle cx="743.5" cy="598.3" r="2.0"/><circle cx="747.7" cy="598.5" r="2.0"/><circle cx="751.8" cy="598.8" r="2.0"/><circle cx="756.0" cy="599.0" r="2.0"/><circle cx="760.1" cy="599.3" r="2.0"/><circle cx="764.3" cy="599.5" r="2.0"/><circle cx="768.4" cy="599.8" r="2.0"/><circle cx="772.5" cy="600.0" r="2.0"/><circle cx="776.7" cy="600.3" r="2.0"/><circle cx="780.8" cy="600.5" r="2.0"/><circle cx="785.0" cy="600.8" r="2.0"/><circle cx="789.1" cy="601.0" r="2.0"/><circle cx="793.3" cy="601.3" r="2.0"/><circle cx="797.4" cy="601.5" r="2.0"/><circle cx="801.6" cy="601.8" r="2.0"/><circle cx="805.7" cy="602.0" r="2.0"/><circle cx="809.8" cy="602.3" r="2.0"/><circle cx="814.0" cy="602.5" r="2.0"/><circle cx="818.1" cy="602.8" r="2.0"/><circle cx="822.3" cy="603.0" r="2.0"/><circle cx="826.4" cy="603.2" r="2.0"/><circle cx="830.6" cy="603.4" r="2.0"/><circle cx="834.7" cy="603.6" r="2.0"/><circle cx="838.9" cy="603.8" r="2.0"/><circle cx="843.0" cy="604.1" r="2.0"/><circle cx="847.2" cy="604.3" r="2.0"/><circle cx="851.3" cy="604.5" r="2.0"/><circle cx="855.4" cy="604.6" r="2.0"/><circle cx="859.6" cy="604.8" r="2.0"/><circle cx="863.7" cy="605.0" r="2.0"/><circle cx="867.9" cy="605.2" r="2.0"/><circle cx="872.0" cy="605.4" r="2.0"/><circle cx="876.2" cy="605.6" r="2.0"/><circle cx="880.3" cy="605.8" r="2.0"/><circle cx="884.5" cy="605.9" r="2.0"/><circle cx="888.6" cy="606.1" r="2.0"/><circle cx="892.7" cy="606.3" r="2.0"/><circle cx="896.9" cy="606.4" r="2.0"/><circle cx="901.0" cy="606.6" r="2.0"/><circle cx="905.2" cy="606.8" r="2.0"/><circle cx="909.3" cy="606.9" r="2.0"/></g>
<g fill="#fff" stroke="#ff7c7c" stroke-width="0.9"><circle cx="504.1" cy="459.9" r="2.0"/><circle cx="509.3" cy="478.7" r="2.0"/><circle cx="514.4" cy="488.4" r="2.0"/><circle cx="519.4" cy="494.7" r="2.0"/><circle cx="524.6" cy="499.5" r="2.0"/><circle cx="529.8" cy="502.9" r="2.0"/><circle cx="535.0" cy="505.6" r="2.0"/><circle cx="540.2" cy="507.9" r="2.0"/><circle cx="545.4" cy="510.1" r="2.0"/><circle cx="550.6" cy="512.5" r="2.0"/><circle cx="555.7" cy="514.4" r="2.0"/><circle cx="560.9" cy="515.9" r="2.0"/><circle cx="566.1" cy="517.4" r="2.0"/><circle cx="571.3" cy="519.3" r="2.0"/><circle cx="576.5" cy="521.2" r="2.0"/><circle cx="581.7" cy="523.2" r="2.0"/><circle cx="586.9" cy="525.0" r="2.0"/><circle cx="592.1" cy="526.6" r="2.0"/><circle cx="597.3" cy="528.1" r="2.0"/><circle cx="602.5" cy="529.5" r="2.0"/><circle cx="607.6" cy="530.6" r="2.0"/><circle cx="612.8" cy="531.4" r="2.0"/><circle cx="618.0" cy="532.2" r="2.0"/><circle cx="623.2" cy="532.8" r="2.0"/><circle cx="628.4" cy="533.5" r="2.0"/><circle cx="633.6" cy="534.4" r="2.0"/><circle cx="638.8" cy="535.3" r="2.0"/><circle cx="644.0" cy="536.4" r="2.0"/><circle cx="649.2" cy="537.4" r="2.0"/><circle cx="654.4" cy="538.5" r="2.0"/><circle cx="659.5" cy="539.5" r="2.0"/><circle cx="664.7" cy="540.4" r="2.0"/><circle cx="669.9" cy="541.3" r="2.0"/><circle cx="675.1" cy="542.2" r="2.0"/><circle cx="680.3" cy="543.1" r="2.0"/><circle cx="685.5" cy="544.0" r="2.0"/><circle cx="690.7" cy="544.8" r="2.0"/><circle cx="695.9" cy="545.5" r="2.0"/><circle cx="701.1" cy="546.3" r="2.0"/><circle cx="706.3" cy="547.1" r="2.0"/><circle cx="711.4" cy="547.9" r="2.0"/><circle cx="716.6" cy="548.6" r="2.0"/><circle cx="721.8" cy="549.2" r="2.0"/><circle cx="727.0" cy="549.9" r="2.0"/><circle cx="732.2" cy="550.5" r="2.0"/><circle cx="737.4" cy="551.2" r="2.0"/><circle cx="742.6" cy="551.8" r="2.0"/><circle cx="747.8" cy="552.3" r="2.0"/><circle cx="753.0" cy="552.9" r="2.0"/><circle cx="758.2" cy="553.5" r="2.0"/><circle cx="763.3" cy="554.1" r="2.0"/><circle cx="768.5" cy="554.5" r="2.0"/><circle cx="773.7" cy="554.8" r="2.0"/><circle cx="778.9" cy="555.2" r="2.0"/><circle cx="784.1" cy="555.7" r="2.0"/><circle cx="789.3" cy="556.4" r="2.0"/><circle cx="794.5" cy="556.9" r="2.0"/><circle cx="799.7" cy="557.5" r="2.0"/><circle cx="804.9" cy="558.1" r="2.0"/><circle cx="810.1" cy="558.6" r="2.0"/><circle cx="815.2" cy="559.1" r="2.0"/><circle cx="820.4" cy="559.6" r="2.0"/><circle cx="825.6" cy="560.1" r="2.0"/><circle cx="830.8" cy="560.5" r="2.0"/><circle cx="836.0" cy="560.9" r="2.0"/><circle cx="841.2" cy="561.3" r="2.0"/><circle cx="846.4" cy="561.7" r="2.0"/><circle cx="851.6" cy="562.2" r="2.0"/><circle cx="856.8" cy="562.6" r="2.0"/><circle cx="862.0" cy="563.0" r="2.0"/><circle cx="867.1" cy="563.4" r="2.0"/><circle cx="872.3" cy="563.8" r="2.0"/><circle cx="877.5" cy="564.1" r="2.0"/><circle cx="882.7" cy="564.4" r="2.0"/><circle cx="887.9" cy="564.7" r="2.0"/><circle cx="893.1" cy="565.1" r="2.0"/><circle cx="898.3" cy="565.4" r="2.0"/><circle cx="903.5" cy="565.7" r="2.0"/><circle cx="908.7" cy="566.0" r="2.0"/></g>
<g fill="#fff" stroke="#7474ff" stroke-width="0.9"><circle cx="502.9" cy="415.3" r="2.0"/><circle cx="507.2" cy="456.6" r="2.0"/><circle cx="511.6" cy="474.2" r="2.0"/><circle cx="515.7" cy="484.6" r="2.0"/><circle cx="519.8" cy="492.3" r="2.0"/><circle cx="523.9" cy="497.6" r="2.0"/><circle cx="528.1" cy="501.7" r="2.0"/><circle cx="532.2" cy="505.0" r="2.0"/><circle cx="536.4" cy="507.5" r="2.0"/><circle cx="540.5" cy="509.9" r="2.0"/><circle cx="544.7" cy="512.2" r="2.0"/><circle cx="548.8" cy="514.0" r="2.0"/><circle cx="553.0" cy="516.1" r="2.0"/><circle cx="557.1" cy="517.9" r="2.0"/><circle cx="561.2" cy="519.6" r="2.0"/><circle cx="565.4" cy="521.1" r="2.0"/><circle cx="569.5" cy="522.6" r="2.0"/><circle cx="573.7" cy="524.0" r="2.0"/><circle cx="577.8" cy="525.2" r="2.0"/><circle cx="582.0" cy="526.4" r="2.0"/><circle cx="586.1" cy="527.6" r="2.0"/><circle cx="590.3" cy="528.7" r="2.0"/><circle cx="594.4" cy="529.7" r="2.0"/><circle cx="598.6" cy="530.7" r="2.0"/><circle cx="602.7" cy="531.6" r="2.0"/><circle cx="606.8" cy="532.4" r="2.0"/><circle cx="611.0" cy="533.2" r="2.0"/><circle cx="615.1" cy="533.8" r="2.0"/><circle cx="619.3" cy="534.4" r="2.0"/><circle cx="623.4" cy="534.9" r="2.0"/><circle cx="627.6" cy="535.5" r="2.0"/><circle cx="631.7" cy="536.1" r="2.0"/><circle cx="635.9" cy="536.8" r="2.0"/><circle cx="640.0" cy="537.5" r="2.0"/><circle cx="644.1" cy="538.2" r="2.0"/><circle cx="648.3" cy="538.8" r="2.0"/><circle cx="652.4" cy="539.5" r="2.0"/><circle cx="656.6" cy="540.1" r="2.0"/><circle cx="660.7" cy="540.7" r="2.0"/><circle cx="664.9" cy="541.2" r="2.0"/><circle cx="669.0" cy="541.7" r="2.0"/><circle cx="673.2" cy="542.2" r="2.0"/><circle cx="677.3" cy="542.7" r="2.0"/><circle cx="681.5" cy="543.2" r="2.0"/><circle cx="685.6" cy="543.7" r="2.0"/><circle cx="689.7" cy="544.2" r="2.0"/><circle cx="693.9" cy="544.7" r="2.0"/><circle cx="698.0" cy="545.2" r="2.0"/><circle cx="702.2" cy="545.6" r="2.0"/><circle cx="706.3" cy="546.0" r="2.0"/><circle cx="710.5" cy="546.4" r="2.0"/><circle cx="714.6" cy="546.9" r="2.0"/><circle cx="718.8" cy="547.3" r="2.0"/><circle cx="722.9" cy="547.7" r="2.0"/><circle cx="727.0" cy="548.1" r="2.0"/><circle cx="731.2" cy="548.4" r="2.0"/><circle cx="735.3" cy="548.7" r="2.0"/><circle cx="739.5" cy="549.0" r="2.0"/><circle cx="743.6" cy="549.3" r="2.0"/><circle cx="747.8" cy="549.7" r="2.0"/><circle cx="751.9" cy="550.0" r="2.0"/><circle cx="756.1" cy="550.4" r="2.0"/><circle cx="760.2" cy="550.7" r="2.0"/><circle cx="764.4" cy="551.1" r="2.0"/><circle cx="768.5" cy="551.4" r="2.0"/><circle cx="772.6" cy="551.8" r="2.0"/><circle cx="776.8" cy="552.2" r="2.0"/><circle cx="780.9" cy="552.6" r="2.0"/><circle cx="785.1" cy="553.0" r="2.0"/><circle cx="789.2" cy="553.3" r="2.0"/><circle cx="793.4" cy="553.7" r="2.0"/><circle cx="797.5" cy="554.0" r="2.0"/><circle cx="801.7" cy="554.4" r="2.0"/><circle cx="805.8" cy="554.7" r="2.0"/><circle cx="809.9" cy="555.0" r="2.0"/><circle cx="814.1" cy="555.3" r="2.0"/><circle cx="818.2" cy="555.6" r="2.0"/><circle cx="822.4" cy="555.8" r="2.0"/><circle cx="826.5" cy="556.1" r="2.0"/><circle cx="830.7" cy="556.4" r="2.0"/><circle cx="834.8" cy="556.7" r="2.0"/><circle cx="839.0" cy="557.0" r="2.0"/><circle cx="843.1" cy="557.4" r="2.0"/><circle cx="847.3" cy="557.7" r="2.0"/><circle cx="851.4" cy="558.0" r="2.0"/><circle cx="855.5" cy="558.3" r="2.0"/><circle cx="859.7" cy="558.6" r="2.0"/><circle cx="863.8" cy="558.8" r="2.0"/><circle cx="868.0" cy="559.0" r="2.0"/><circle cx="872.1" cy="559.3" r="2.0"/><circle cx="876.3" cy="559.6" r="2.0"/><circle cx="880.4" cy="559.9" r="2.0"/><circle cx="884.6" cy="560.2" r="2.0"/><circle cx="888.7" cy="560.5" r="2.0"/><circle cx="892.8" cy="560.8" r="2.0"/><circle cx="897.0" cy="561.0" r="2.0"/><circle cx="901.1" cy="561.3" r="2.0"/><circle cx="905.3" cy="561.6" r="2.0"/><circle cx="909.4" cy="561.8" r="2.0"/></g>
<circle cx="498.9" cy="289.2" r="2" fill="#fff" stroke="#62ee62" stroke-width="0.9"/><circle cx="498.9" cy="339.7" r="2" fill="#fff" stroke="#ff7c7c" stroke-width="0.9"/>
<path d="M499.6,74.0 L499.6,75.5 L499.6,77.0 L499.6,78.5 L499.6,80.0 L499.6,81.5 L499.6,83.0 L499.7,84.5 L499.7,86.0 L499.7,87.5 L499.7,89.0 L499.7,90.5 L499.7,92.0 L499.7,93.6 L499.7,95.1 L499.7,96.6 L499.7,98.1 L499.8,99.5 L499.8,101.0 L499.8,102.5 L499.8,104.0 L499.8,105.5 L499.8,107.0 L499.8,108.5 L499.9,110.0 L499.9,111.5 L499.9,113.0 L499.9,114.5 L499.9,116.0 L499.9,117.5 L500.0,119.0 L500.0,120.5 L500.0,122.0 L500.0,123.5 L500.0,125.0 L500.0,126.5 L500.1,128.0 L500.1,129.5 L500.1,131.0 L500.1,132.5 L500.2,134.0 L500.2,135.5 L500.2,137.0 L500.2,138.5 L500.3,140.0 L500.3,141.5 L500.3,143.0 L500.4,144.4 L500.4,145.9 L500.4,147.4 L500.4,148.9 L500.5,150.4 L500.5,151.9 L500.5,153.4 L500.6,154.9 L500.6,156.4 L500.7,157.9 L500.7,159.4 L500.7,160.9 L500.8,162.4 L500.8,163.9 L500.9,165.4 L500.9,166.9 L500.9,168.4 L501.0,169.9 L501.0,171.4 L501.1,172.9 L501.1,174.4 L501.2,175.9 L501.2,177.4 L501.3,179.0 L501.3,180.5 L501.4,182.0 L501.5,183.5 L501.5,185.0 L501.6,186.5 L501.6,188.0 L501.7,189.5 L501.8,191.0 L501.9,192.5 L501.9,194.0 L502.0,195.5 L502.1,197.0 L502.2,198.5 L502.3,200.0 L502.4,201.5 L502.5,203.0 L502.6,204.5 L502.7,206.0 L502.8,207.5 L502.9,209.0 L503.1,210.5 L503.2,212.0 L503.3,213.5 L503.5,215.0 L503.6,216.5 L503.8,218.0 L503.9,219.5 L504.1,221.0 L504.2,222.5 L504.4,223.9 L504.6,225.4 L504.8,226.9 L505.0,228.4 L505.2,229.9 L505.4,231.4 L505.6,232.8 L505.9,234.3 L506.1,235.8 L506.3,237.3 L506.6,238.7 L506.9,240.2 L507.1,241.7 L507.4,243.2 L507.7,244.6 L508.0,246.1 L508.3,247.6 L508.7,249.0 L509.0,250.5 L509.4,251.9 L509.7,253.4 L510.1,254.8 L510.5,256.3 L510.9,257.7 L511.3,259.2 L511.7,260.6 L512.1,262.0 L512.5,263.5 L513.0,264.9 L513.5,266.3 L513.9,267.7 L514.4,269.1 L514.9,270.5 L515.4,271.9 L515.9,273.3 L516.5,274.7 L517.0,276.1 L517.6,277.5 L518.2,278.9 L518.8,280.3 L519.4,281.6 L520.0,283.0 L520.6,284.4 L521.3,285.7 L521.9,287.1 L522.6,288.4 L523.3,289.8 L524.0,291.1 L524.7,292.4 L525.4,293.7 L526.1,295.0 L526.9,296.3 L527.6,297.6 L528.4,298.9 L529.2,300.2 L530.0,301.5 L530.8,302.8 L531.6,304.0 L532.4,305.3 L533.3,306.5 L534.1,307.8 L535.0,309.0 L535.9,310.2 L536.8,311.4 L537.6,312.6 L538.6,313.8 L539.5,315.0 L540.4,316.2 L541.3,317.4 L542.3,318.5 L543.2,319.7 L544.2,320.8 L545.2,322.0 L546.1,323.1 L547.1,324.2 L548.1,325.4 L549.1,326.5 L550.1,327.6 L551.2,328.7 L552.2,329.8 L553.2,330.8 L554.3,331.9 L555.3,333.0 L556.4,334.0 L557.5,335.1 L558.5,336.1 L559.6,337.2 L560.7,338.2 L561.8,339.2 L562.9,340.3 L564.0,341.3 L565.1,342.3 L566.3,343.3 L567.4,344.3 L568.5,345.3 L569.7,346.2 L570.8,347.2 L572.0,348.2 L573.1,349.1 L574.3,350.1 L575.4,351.0 L576.6,352.0 L577.8,352.9 L579.0,353.9 L580.1,354.8 L581.3,355.7 L582.5,356.6 L583.7,357.5 L584.9,358.4 L586.1,359.3 L587.3,360.2 L588.5,361.1 L589.8,362.0 L591.0,362.8 L592.2,363.7 L593.4,364.6 L594.7,365.4 L595.9,366.3 L597.1,367.1 L598.4,368.0 L599.6,368.8 L600.9,369.6 L602.1,370.4 L603.4,371.2 L604.6,372.1 L605.9,372.9 L607.2,373.7 L608.4,374.5 L609.7,375.2 L611.0,376.0 L612.3,376.8 L613.6,377.6 L614.8,378.3 L616.1,379.1 L617.4,379.9 L618.7,380.6 L620.0,381.4 L621.3,382.1 L622.6,382.8 L623.9,383.6 L625.3,384.3 L626.6,385.0 L627.9,385.7 L629.2,386.4 L630.5,387.1 L631.9,387.8 L633.2,388.5 L634.5,389.2 L635.9,389.9 L637.2,390.6 L638.5,391.2 L639.9,391.9 L641.2,392.5 L642.6,393.2 L643.9,393.9 L645.3,394.5 L646.6,395.1 L648.0,395.8 L649.3,396.4 L650.7,397.0 L652.1,397.7 L653.4,398.3 L654.8,398.9 L656.2,399.5 L657.6,400.1 L658.9,400.7 L660.3,401.3 L661.7,401.9 L663.1,402.5 L664.5,403.1 L665.8,403.6 L667.2,404.2 L668.6,404.8 L670.0,405.3 L671.4,405.9 L672.8,406.5 L674.2,407.0 L675.6,407.5 L677.0,408.1 L678.4,408.6 L679.8,409.2 L681.2,409.7 L682.6,410.2 L684.0,410.8 L685.4,411.3 L686.8,411.8 L688.2,412.3 L689.7,412.8 L691.1,413.3 L692.5,413.8 L693.9,414.3 L695.3,414.8 L696.8,415.3 L698.2,415.8 L699.6,416.3 L701.0,416.7 L702.4,417.2 L703.9,417.7 L705.3,418.2 L706.7,418.6 L708.1,419.1 L709.6,419.6 L711.0,420.0 L712.4,420.5 L713.9,420.9 L715.3,421.4 L716.7,421.8 L718.2,422.3 L719.6,422.7 L721.0,423.1 L722.5,423.6 L723.9,424.0 L725.3,424.4 L726.8,424.9 L728.2,425.3 L729.7,425.7 L731.1,426.1 L732.5,426.5 L734.0,426.9 L735.4,427.4 L736.9,427.8 L738.3,428.2 L739.8,428.6 L741.2,429.0 L742.6,429.4 L744.1,429.8 L745.5,430.1 L747.0,430.5 L748.4,430.9 L749.9,431.3 L751.3,431.7 L752.8,432.1 L754.2,432.4 L755.7,432.8 L757.1,433.2 L758.6,433.6 L760.0,433.9 L761.5,434.3 L762.9,434.7 L764.4,435.0 L765.8,435.4 L767.3,435.8 L768.7,436.1 L770.2,436.5 L771.6,436.8 L773.1,437.2 L774.6,437.5 L776.0,437.9 L777.5,438.2 L778.9,438.6 L780.4,438.9 L781.9,439.2 L783.3,439.6 L784.8,439.9 L786.2,440.3 L787.7,440.6 L789.2,440.9 L790.6,441.3 L792.1,441.6 L793.5,441.9 L795.0,442.2 L796.5,442.6 L797.9,442.9 L799.4,443.2 L800.9,443.5 L802.3,443.9 L803.8,444.2 L805.3,444.5 L806.7,444.8 L808.2,445.1 L809.7,445.4 L811.1,445.8 L812.6,446.1 L814.1,446.4 L815.5,446.7 L817.0,447.0 L818.5,447.3 L819.9,447.6 L821.4,447.9 L822.9,448.2 L824.4,448.5 L825.8,448.8 L827.3,449.1 L828.8,449.4 L830.2,449.7 L831.7,450.0 L833.2,450.3 L834.7,450.6 L836.1,450.9 L837.6,451.2 L839.1,451.5 L840.6,451.8 L842.0,452.1 L843.5,452.4 L845.0,452.7 L846.5,452.9 L847.9,453.2 L849.4,453.5 L850.9,453.8 L852.4,454.0 L853.8,454.3 L855.3,454.6 L856.8,454.9 L858.3,455.1 L859.8,455.4 L861.2,455.7 L862.7,455.9 L864.2,456.2 L865.7,456.4 L867.2,456.7 L868.6,456.9 L870.1,457.2 L871.6,457.4 L873.1,457.7 L874.6,457.9 L876.0,458.2 L877.5,458.4 L879.0,458.6 L880.5,458.8 L882.0,459.1 L883.5,459.3 L884.9,459.5 L886.4,459.7 L887.9,459.9 L889.4,460.2 L890.9,460.4 L892.4,460.6 L893.8,460.8 L895.3,461.0 L896.8,461.2 L898.3,461.3 L899.8,461.5 L901.3,461.7 L902.8,461.9 L904.2,462.1 L905.7,462.2 L907.2,462.4 L908.7,462.6 L910.0,462.7" fill="none" stroke="#ff0000" stroke-width="3.5" stroke-linejoin="round"/>
<path d="M500.2,74.0 L500.3,75.5 L500.3,77.0 L500.4,78.5 L500.4,80.0 L500.5,81.5 L500.5,83.0 L500.6,84.5 L500.6,86.0 L500.6,87.5 L500.7,89.0 L500.7,90.5 L500.7,92.0 L500.7,93.5 L500.8,95.0 L500.8,96.5 L500.8,98.0 L500.8,99.5 L500.9,101.0 L500.9,102.5 L500.9,104.0 L500.9,105.5 L501.0,107.0 L501.0,108.5 L501.0,110.0 L501.0,111.5 L501.1,113.0 L501.1,114.5 L501.1,116.0 L501.2,117.5 L501.2,119.0 L501.2,120.5 L501.3,122.0 L501.3,123.5 L501.4,125.0 L501.5,126.5 L501.5,128.0 L501.6,129.5 L501.7,131.0 L501.7,132.5 L501.8,134.0 L501.9,135.5 L502.0,137.0 L502.1,138.4 L502.2,139.9 L502.3,141.4 L502.5,142.9 L502.6,144.4 L502.7,145.9 L502.9,147.4 L503.0,148.9 L503.2,150.4 L503.4,151.9 L503.6,153.4 L503.8,154.8 L504.0,156.3 L504.2,157.8 L504.4,159.3 L504.6,160.8 L504.9,162.3 L505.1,163.8 L505.4,165.2 L505.6,166.7 L505.9,168.2 L506.2,169.7 L506.5,171.2 L506.8,172.6 L507.1,174.1 L507.4,175.6 L507.8,177.0 L508.1,178.5 L508.5,180.0 L508.8,181.4 L509.2,182.9 L509.6,184.4 L510.0,185.8 L510.4,187.3 L510.8,188.7 L511.3,190.1 L511.7,191.6 L512.2,193.0 L512.7,194.4 L513.2,195.8 L513.8,197.2 L514.3,198.6 L514.9,200.0 L515.5,201.3 L516.1,202.7 L516.8,204.0 L517.4,205.4 L518.1,206.7 L518.9,208.0 L519.6,209.3 L520.4,210.5 L521.2,211.8 L522.0,213.0 L522.8,214.3 L523.7,215.5 L524.6,216.7 L525.5,217.9 L526.4,219.1 L527.3,220.2 L528.3,221.4 L529.3,222.5 L530.2,223.7 L531.3,224.8 L532.3,225.9 L533.3,227.0 L534.3,228.1 L535.4,229.2 L536.5,230.2 L537.5,231.3 L538.6,232.3 L539.7,233.4 L540.8,234.4 L541.9,235.4 L543.0,236.4 L544.2,237.4 L545.3,238.4 L546.4,239.3 L547.6,240.3 L548.7,241.3 L549.9,242.2 L551.1,243.1 L552.2,244.1 L553.4,245.0 L554.6,245.9 L555.8,246.8 L557.0,247.7 L558.2,248.6 L559.4,249.4 L560.6,250.3 L561.9,251.1 L563.1,252.0 L564.3,252.8 L565.6,253.7 L566.8,254.5 L568.1,255.3 L569.4,256.1 L570.6,256.9 L571.9,257.7 L573.2,258.5 L574.5,259.3 L575.8,260.1 L577.1,260.8 L578.4,261.6 L579.7,262.4 L581.0,263.1 L582.3,263.8 L583.6,264.6 L584.9,265.3 L586.2,266.0 L587.6,266.7 L588.9,267.5 L590.2,268.2 L591.6,268.9 L592.9,269.5 L594.2,270.2 L595.6,270.9 L596.9,271.6 L598.3,272.2 L599.6,272.9 L601.0,273.6 L602.3,274.2 L603.7,274.9 L605.1,275.5 L606.4,276.1 L607.8,276.8 L609.1,277.4 L610.5,278.0 L611.9,278.6 L613.2,279.2 L614.6,279.8 L616.0,280.4 L617.4,281.0 L618.7,281.6 L620.1,282.2 L621.5,282.7 L622.9,283.3 L624.3,283.9 L625.6,284.5 L627.0,285.0 L628.4,285.6 L629.8,286.1 L631.2,286.7 L632.6,287.2 L634.0,287.7 L635.4,288.3 L636.8,288.8 L638.2,289.3 L639.6,289.9 L641.0,290.4 L642.4,290.9 L643.8,291.4 L645.2,291.9 L646.6,292.4 L648.0,292.9 L649.4,293.4 L650.8,293.9 L652.2,294.4 L653.6,294.9 L655.1,295.4 L656.5,295.8 L657.9,296.3 L659.3,296.8 L660.7,297.3 L662.1,297.7 L663.6,298.2 L665.0,298.7 L666.4,299.1 L667.8,299.6 L669.3,300.0 L670.7,300.5 L672.1,301.0 L673.5,301.4 L675.0,301.9 L676.4,302.3 L677.8,302.7 L679.3,303.2 L680.7,303.6 L682.1,304.1 L683.6,304.5 L685.0,304.9 L686.5,305.4 L687.9,305.8 L689.3,306.2 L690.8,306.6 L692.2,307.1 L693.7,307.5 L695.1,307.9 L696.5,308.3 L698.0,308.8 L699.4,309.2 L700.9,309.6 L702.3,310.0 L703.8,310.4 L705.2,310.8 L706.7,311.2 L708.1,311.6 L709.6,312.0 L711.0,312.4 L712.5,312.8 L713.9,313.2 L715.4,313.6 L716.8,314.0 L718.3,314.4 L719.7,314.8 L721.2,315.2 L722.6,315.6 L724.1,316.0 L725.5,316.4 L727.0,316.7 L728.5,317.1 L729.9,317.5 L731.4,317.9 L732.8,318.3 L734.3,318.6 L735.7,319.0 L737.2,319.4 L738.7,319.7 L740.1,320.1 L741.6,320.5 L743.0,320.8 L744.5,321.2 L746.0,321.6 L747.4,321.9 L748.9,322.3 L750.3,322.6 L751.8,323.0 L753.3,323.3 L754.7,323.7 L756.2,324.0 L757.7,324.4 L759.1,324.7 L760.6,325.1 L762.0,325.4 L763.5,325.7 L765.0,326.1 L766.4,326.4 L767.9,326.7 L769.3,327.1 L770.8,327.4 L772.3,327.7 L773.7,328.1 L775.2,328.4 L776.7,328.7 L778.1,329.0 L779.6,329.3 L781.1,329.7 L782.5,330.0 L784.0,330.3 L785.4,330.6 L786.9,330.9 L788.4,331.2 L789.8,331.6 L791.3,331.9 L792.8,332.2 L794.2,332.5 L795.7,332.8 L797.2,333.1 L798.6,333.4 L800.1,333.7 L801.6,334.0 L803.0,334.3 L804.5,334.6 L806.0,334.9 L807.4,335.2 L808.9,335.5 L810.4,335.8 L811.8,336.1 L813.3,336.4 L814.8,336.7 L816.2,337.0 L817.7,337.2 L819.2,337.5 L820.6,337.8 L822.1,338.1 L823.6,338.4 L825.0,338.7 L826.5,339.0 L828.0,339.3 L829.4,339.6 L830.9,339.8 L832.4,340.1 L833.9,340.4 L835.3,340.7 L836.8,341.0 L838.3,341.3 L839.7,341.5 L841.2,341.8 L842.7,342.1 L844.2,342.4 L845.6,342.7 L847.1,342.9 L848.6,343.2 L850.0,343.5 L851.5,343.8 L853.0,344.1 L854.5,344.3 L855.9,344.6 L857.4,344.9 L858.9,345.2 L860.4,345.4 L861.8,345.7 L863.3,346.0 L864.8,346.3 L866.3,346.5 L867.8,346.8 L869.2,347.1 L870.7,347.3 L872.2,347.6 L873.7,347.8 L875.1,348.1 L876.6,348.4 L878.1,348.6 L879.6,348.9 L881.1,349.1 L882.5,349.4 L884.0,349.6 L885.5,349.9 L887.0,350.1 L888.5,350.3 L890.0,350.6 L891.4,350.8 L892.9,351.0 L894.4,351.3 L895.9,351.5 L897.4,351.7 L898.9,351.9 L900.3,352.2 L901.8,352.4 L903.3,352.6 L904.8,352.8 L906.3,353.0 L907.8,353.2 L909.3,353.4 L910.0,353.5" fill="none" stroke="#00ff00" stroke-width="3.5" stroke-linejoin="round"/>
<path d="M499.4,74.0 L499.4,75.5 L499.4,77.0 L499.4,78.5 L499.4,80.0 L499.4,81.5 L499.4,83.0 L499.4,84.5 L499.4,86.0 L499.4,87.5 L499.4,89.0 L499.4,90.5 L499.4,92.0 L499.4,93.5 L499.4,95.0 L499.4,96.5 L499.4,98.0 L499.4,99.5 L499.4,101.0 L499.4,102.5 L499.4,104.0 L499.4,105.5 L499.4,107.0 L499.4,108.5 L499.4,110.0 L499.4,111.5 L499.4,113.0 L499.4,114.5 L499.4,116.0 L499.4,117.5 L499.4,119.0 L499.4,120.5 L499.4,122.0 L499.4,123.5 L499.4,125.0 L499.4,126.5 L499.4,128.0 L499.4,129.5 L499.4,131.0 L499.4,132.5 L499.4,134.0 L499.4,135.5 L499.4,137.0 L499.4,138.5 L499.4,140.0 L499.4,141.5 L499.4,143.0 L499.4,144.5 L499.4,146.0 L499.4,147.5 L499.4,149.0 L499.4,150.5 L499.4,152.0 L499.4,153.5 L499.4,155.0 L499.4,156.5 L499.4,158.0 L499.4,159.5 L499.4,161.0 L499.4,162.5 L499.4,164.0 L499.4,165.5 L499.4,167.0 L499.4,168.5 L499.4,170.0 L499.4,171.5 L499.4,173.0 L499.4,174.5 L499.4,176.0 L499.4,177.5 L499.4,179.0 L499.4,180.5 L499.5,182.0 L499.5,183.5 L499.5,185.0 L499.5,186.5 L499.5,188.0 L499.5,189.5 L499.5,191.0 L499.5,192.5 L499.5,194.0 L499.5,195.5 L499.5,197.0 L499.6,198.5 L499.6,200.0 L499.6,201.5 L499.6,203.0 L499.6,204.5 L499.6,206.0 L499.6,207.5 L499.7,209.0 L499.7,210.5 L499.7,212.0 L499.7,213.5 L499.7,215.0 L499.7,216.5 L499.8,218.0 L499.8,219.5 L499.8,221.0 L499.8,222.5 L499.8,224.0 L499.8,225.5 L499.9,227.0 L499.9,228.5 L499.9,230.0 L499.9,231.5 L499.9,233.0 L500.0,234.5 L500.0,236.0 L500.0,237.5 L500.0,239.0 L500.0,240.5 L500.1,242.0 L500.1,243.5 L500.1,245.0 L500.1,246.5 L500.1,248.0 L500.2,249.5 L500.2,251.0 L500.2,252.5 L500.2,254.0 L500.2,255.5 L500.3,257.0 L500.3,258.5 L500.3,260.0 L500.3,261.5 L500.4,263.0 L500.4,264.5 L500.4,266.0 L500.4,267.5 L500.4,269.0 L500.5,270.5 L500.5,272.0 L500.5,273.5 L500.5,275.0 L500.5,276.5 L500.6,278.0 L500.6,279.5 L500.6,281.0 L500.6,282.5 L500.6,284.0 L500.7,285.5 L500.7,287.0 L500.7,288.5 L500.7,290.0 L500.7,291.5 L500.8,293.0 L500.8,294.5 L500.8,296.0 L500.8,297.5 L500.8,299.0 L500.8,300.5 L500.9,302.0 L500.9,303.5 L500.9,305.0 L500.9,306.5 L500.9,308.0 L500.9,309.5 L501.0,311.0 L501.0,312.5 L501.0,314.0 L501.0,315.5 L501.0,317.0 L501.1,318.5 L501.1,320.0 L501.1,321.5 L501.1,323.0 L501.1,324.5 L501.2,326.0 L501.2,327.5 L501.2,329.0 L501.3,330.5 L501.3,332.0 L501.3,333.5 L501.4,335.0 L501.4,336.5 L501.4,338.0 L501.5,339.5 L501.5,341.0 L501.6,342.5 L501.6,344.0 L501.6,345.5 L501.7,347.0 L501.7,348.5 L501.8,350.0 L501.9,351.5 L501.9,353.0 L502.0,354.5 L502.0,355.9 L502.1,357.4 L502.2,358.9 L502.3,360.4 L502.3,361.9 L502.4,363.4 L502.5,364.9 L502.6,366.4 L502.7,367.9 L502.8,369.4 L502.9,370.9 L503.0,372.4 L503.1,373.9 L503.2,375.4 L503.3,376.9 L503.4,378.4 L503.5,379.9 L503.7,381.4 L503.8,382.9 L503.9,384.4 L504.1,385.9 L504.2,387.4 L504.4,388.9 L504.5,390.4 L504.7,391.9 L504.8,393.4 L505.0,394.9 L505.2,396.4 L505.3,397.9 L505.5,399.4 L505.7,400.9 L505.9,402.4 L506.1,403.9 L506.3,405.4 L506.6,406.9 L506.8,408.4 L507.0,409.9 L507.3,411.3 L507.6,412.8 L507.8,414.3 L508.1,415.8 L508.4,417.2 L508.7,418.7 L509.1,420.2 L509.4,421.6 L509.8,423.1 L510.1,424.5 L510.5,425.9 L510.9,427.4 L511.4,428.8 L511.8,430.2 L512.3,431.6 L512.8,433.0 L513.3,434.4 L513.8,435.8 L514.3,437.1 L514.9,438.5 L515.5,439.9 L516.1,441.2 L516.7,442.6 L517.4,443.9 L518.1,445.2 L518.8,446.5 L519.5,447.8 L520.3,449.1 L521.1,450.4 L521.9,451.6 L522.7,452.9 L523.6,454.1 L524.5,455.4 L525.4,456.6 L526.3,457.8 L527.2,459.0 L528.2,460.1 L529.2,461.3 L530.2,462.4 L531.2,463.6 L532.2,464.7 L533.3,465.8 L534.3,466.9 L535.4,468.0 L536.5,469.0 L537.6,470.0 L538.7,471.1 L539.9,472.1 L541.0,473.1 L542.2,474.0 L543.3,475.0 L544.5,475.9 L545.7,476.8 L546.8,477.7 L548.0,478.6 L549.2,479.5 L550.5,480.4 L551.7,481.2 L552.9,482.0 L554.2,482.8 L555.4,483.6 L556.7,484.4 L557.9,485.2 L559.2,486.0 L560.5,486.7 L561.8,487.5 L563.0,488.2 L564.3,488.9 L565.7,489.6 L567.0,490.3 L568.3,491.0 L569.6,491.7 L570.9,492.4 L572.3,493.1 L573.6,493.7 L575.0,494.4 L576.3,495.0 L577.7,495.7 L579.0,496.3 L580.4,496.9 L581.8,497.5 L583.2,498.1 L584.5,498.7 L585.9,499.3 L587.3,499.9 L588.7,500.5 L590.1,501.0 L591.5,501.6 L592.9,502.1 L594.3,502.7 L595.7,503.2 L597.2,503.8 L598.6,504.3 L600.0,504.8 L601.4,505.3 L602.8,505.8 L604.3,506.3 L605.7,506.8 L607.1,507.3 L608.5,507.8 L610.0,508.2 L611.4,508.7 L612.8,509.2 L614.3,509.6 L615.7,510.1 L617.1,510.5 L618.6,510.9 L620.0,511.4 L621.5,511.8 L622.9,512.2 L624.4,512.6 L625.8,513.0 L627.2,513.5 L628.7,513.9 L630.1,514.2 L631.6,514.6 L633.0,515.0 L634.5,515.4 L635.9,515.8 L637.4,516.2 L638.8,516.5 L640.3,516.9 L641.7,517.3 L643.2,517.6 L644.7,518.0 L646.1,518.3 L647.6,518.7 L649.0,519.0 L650.5,519.3 L651.9,519.7 L653.4,520.0 L654.9,520.3 L656.3,520.7 L657.8,521.0 L659.3,521.3 L660.7,521.6 L662.2,521.9 L663.7,522.2 L665.1,522.5 L666.6,522.8 L668.1,523.1 L669.5,523.4 L671.0,523.7 L672.5,524.0 L673.9,524.3 L675.4,524.6 L676.9,524.9 L678.4,525.2 L679.8,525.5 L681.3,525.7 L682.8,526.0 L684.3,526.3 L685.7,526.5 L687.2,526.8 L688.7,527.1 L690.2,527.3 L691.6,527.6 L693.1,527.8 L694.6,528.1 L696.1,528.3 L697.6,528.6 L699.0,528.8 L700.5,529.0 L702.0,529.3 L703.5,529.5 L705.0,529.7 L706.4,530.0 L707.9,530.2 L709.4,530.4 L710.9,530.6 L712.4,530.8 L713.9,531.1 L715.3,531.3 L716.8,531.5 L718.3,531.7 L719.8,531.9 L721.3,532.1 L722.8,532.3 L724.3,532.5 L725.7,532.7 L727.2,532.8 L728.7,533.0 L730.2,533.2 L731.7,533.4 L733.2,533.6 L734.7,533.8 L736.1,533.9 L737.6,534.1 L739.1,534.3 L740.6,534.4 L742.1,534.6 L743.6,534.8 L745.1,534.9 L746.6,535.1 L748.1,535.3 L749.5,535.4 L751.0,535.6 L752.5,535.8 L754.0,535.9 L755.5,536.1 L757.0,536.2 L758.5,536.4 L760.0,536.5 L761.5,536.7 L763.0,536.8 L764.4,537.0 L765.9,537.1 L767.4,537.3 L768.9,537.4 L770.4,537.6 L771.9,537.7 L773.4,537.9 L774.9,538.0 L776.4,538.2 L777.9,538.3 L779.4,538.4 L780.9,538.6 L782.3,538.7 L783.8,538.9 L785.3,539.0 L786.8,539.2 L788.3,539.3 L789.8,539.4 L791.3,539.6 L792.8,539.7 L794.3,539.9 L795.8,540.0 L797.3,540.2 L798.8,540.3 L800.3,540.5 L801.8,540.6 L803.3,540.7 L804.8,540.9 L806.3,541.0 L807.7,541.2 L809.2,541.3 L810.7,541.5 L812.2,541.6 L813.7,541.8 L815.2,541.9 L816.7,542.1 L818.2,542.2 L819.7,542.4 L821.2,542.5 L822.7,542.7 L824.2,542.8 L825.7,543.0 L827.2,543.1 L828.7,543.3 L830.2,543.4 L831.7,543.6 L833.2,543.7 L834.7,543.9 L836.2,544.0 L837.7,544.2 L839.2,544.3 L840.6,544.5 L842.1,544.6 L843.6,544.8 L845.1,544.9 L846.6,545.1 L848.1,545.2 L849.6,545.3 L851.1,545.5 L852.6,545.6 L854.1,545.8 L855.6,545.9 L857.1,546.0 L858.6,546.2 L860.1,546.3 L861.6,546.4 L863.1,546.6 L864.6,546.7 L866.1,546.8 L867.6,547.0 L869.1,547.1 L870.6,547.2 L872.1,547.3 L873.6,547.5 L875.0,547.6 L876.5,547.7 L878.0,547.8 L879.5,547.9 L881.0,548.0 L882.5,548.2 L884.0,548.3 L885.5,548.4 L887.0,548.5 L888.5,548.6 L890.0,548.7 L891.5,548.8 L893.0,548.9 L894.5,549.0 L896.0,549.1 L897.5,549.2 L899.0,549.2 L900.5,549.3 L901.9,549.4 L903.4,549.5 L904.9,549.6 L906.4,549.6 L907.9,549.7 L909.4,549.8 L910.0,549.8" fill="none" stroke="#0000ff" stroke-width="3.7" stroke-linejoin="round"/>
</g>
<path d="M910.0,73.05 V650.0" fill="none" stroke="#4e4e4e" stroke-width="1.25"/>
<g font-family="Liberation Sans, sans-serif" font-weight="bold" opacity="0.999">
<text x="71.4" y="654.5" font-size="17" fill="#000" text-anchor="end">0</text>
<text x="71.4" y="590.5" font-size="17" fill="#000" text-anchor="end">10</text>
<text x="71.4" y="526.4" font-size="17" fill="#000" text-anchor="end">20</text>
<text x="71.4" y="462.4" font-size="17" fill="#000" text-anchor="end">30</text>
<text x="71.4" y="398.4" font-size="17" fill="#000" text-anchor="end">40</text>
<text x="71.4" y="334.4" font-size="17" fill="#000" text-anchor="end">50</text>
<text x="71.4" y="270.3" font-size="17" fill="#000" text-anchor="end">60</text>
<text x="71.4" y="206.3" font-size="17" fill="#000" text-anchor="end">70</text>
<text x="71.4" y="142.3" font-size="17" fill="#000" text-anchor="end">80</text>
<text x="71.4" y="78.2" font-size="17" fill="#000" text-anchor="end">90</text>
<text x="188.2" y="680.9" font-size="16.8" fill="#000" text-anchor="middle">5</text>
<text x="291.9" y="680.9" font-size="16.8" fill="#000" text-anchor="middle">10</text>
<text x="395.7" y="680.9" font-size="16.8" fill="#000" text-anchor="middle">15</text>
<text x="499.4" y="680.9" font-size="16.8" fill="#000" text-anchor="middle">20</text>
<text x="599.1" y="680.9" font-size="16.8" fill="#000" text-anchor="middle">5</text>
<text x="702.8" y="680.9" font-size="16.8" fill="#000" text-anchor="middle">10</text>
<text x="806.6" y="680.9" font-size="16.8" fill="#000" text-anchor="middle">15</text>
<text x="910.3" y="680.9" font-size="16.8" fill="#000" text-anchor="middle">20</text>
<text x="228.4" y="153.4" font-size="23.7" fill="#000" text-anchor="start" textLength="174.4" lengthAdjust="spacing">Fresh catalysts</text>
<text x="662.8" y="156.9" font-size="23.7" fill="#000" text-anchor="start" textLength="168.6" lengthAdjust="spacing">Aged catalysts</text>
<text x="236.1" y="710.5" font-size="20.5" fill="#000" text-anchor="start" textLength="108.8" lengthAdjust="spacing">Time (min)</text>
<text x="652.2" y="706.6" font-size="20.5" fill="#000" text-anchor="start" textLength="108.4" lengthAdjust="spacing">Time (min)</text>
<text x="133.0" y="355.8" font-size="17.2" fill="#ff0000" text-anchor="start" textLength="128.4" lengthAdjust="spacing">PtRuMo/Vulcan</text>
<text x="346.3" y="426.5" font-size="17.2" fill="#00ff00" text-anchor="start" textLength="94.9" lengthAdjust="spacing">PtRuMo/NF</text>
<text x="165.9" y="451.7" font-size="17.2" fill="#ff0000" text-anchor="start" textLength="103.2" lengthAdjust="spacing">PtRu/Vulcan</text>
<text x="298.7" y="524.9" font-size="17.2" fill="#0000ff" text-anchor="start" textLength="84.6" lengthAdjust="spacing">PtRu/NF.F</text>
<text x="180.2" y="568" font-size="17.2" fill="#00ff00" text-anchor="start" textLength="69.4" lengthAdjust="spacing">PtRu/NF</text>
<text x="314.0" y="572" font-size="17.2" fill="#0000ff" text-anchor="start" textLength="110.8" lengthAdjust="spacing">PtRuMo/NF.F</text>
<text x="566.7" y="336.5" font-size="17.2" fill="#ff0000" text-anchor="start" textLength="128.4" lengthAdjust="spacing">PtRuMo/Vulcan</text>
<text x="777.4" y="308.7" font-size="17.2" fill="#00ff00" text-anchor="start" textLength="95.4" lengthAdjust="spacing">PtRuMo/NF</text>
<text x="707.1" y="510.6" font-size="17.2" fill="#0000ff" text-anchor="start" textLength="110.6" lengthAdjust="spacing">PtRuMo/NF.F</text>
<text x="667.1" y="583.4" font-size="17.2" fill="#00ff00" text-anchor="start" textLength="69.0" lengthAdjust="spacing">PtRu/NF</text>
<text x="912.9" y="563.5" font-size="17.2" fill="#0000ff" text-anchor="start" textLength="84.3" lengthAdjust="spacing">PtRu/NF.F</text>
<text x="912.9" y="585.3" font-size="17.2" fill="#ff0000" text-anchor="start" textLength="103.7" lengthAdjust="spacing">PtRu/Vulcan</text>
<g transform="translate(39.8,477.4) rotate(-90)">
<text x="0" y="0" font-size="17.5" textLength="223.5" lengthAdjust="spacing">Current density (<tspan font-weight="normal">μ</tspan>A·cm</text>
<text x="225.5" y="-16" font-size="17.5">-1</text>
<text x="244.5" y="0" font-size="17.5">)</text>
</g>
</g>
<g font-family="Liberation Serif, serif" font-weight="bold" font-size="37.5" opacity="0.999">
<text x="251.2" y="42.9" font-size="37.5" fill="#000" text-anchor="middle">A</text>
<text x="765.2" y="42.9" font-size="37.5" fill="#000" text-anchor="middle">B</text>
</g>
</svg>
</body></html>
